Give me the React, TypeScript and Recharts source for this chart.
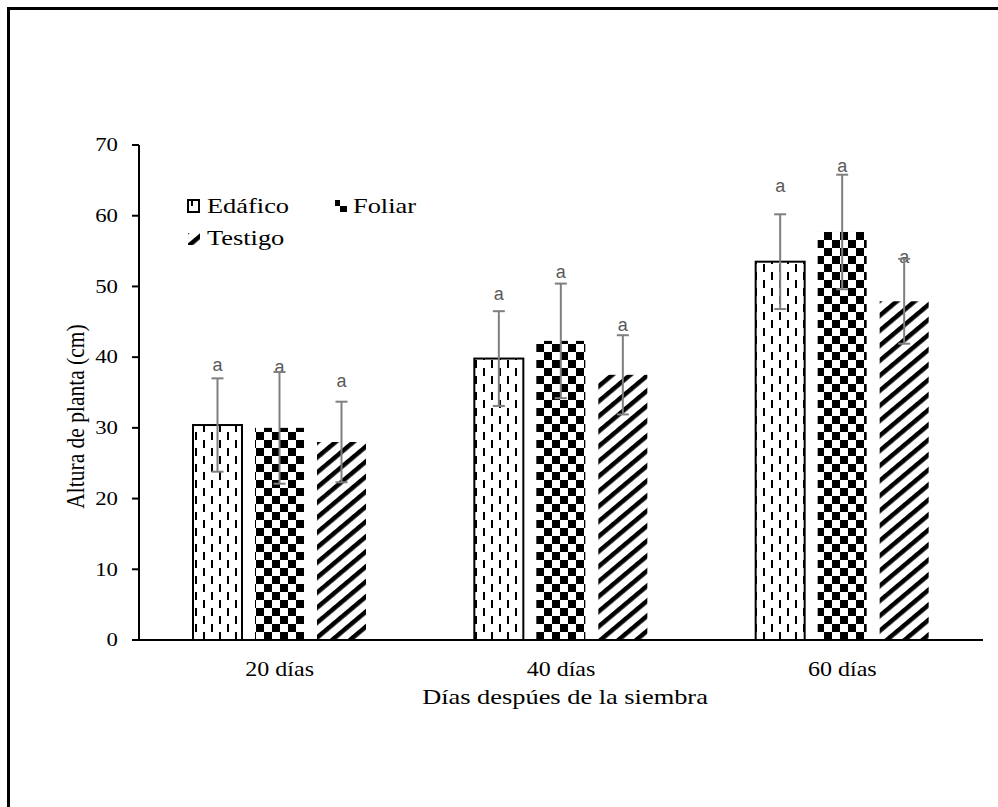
import React from 'react';
import { Bar, BarChart, ErrorBar, Legend, XAxis, YAxis } from 'recharts';

// ----------------------
// DATA
// ----------------------
const categories = ['20 días', '40 días', '60 días'];

const edafico = [30.4, 39.8, 53.5];
const edaficoSd = [6.6, 6.7, 6.7];
const foliar = [30.0, 42.3, 57.7];
const foliarSd = [7.9, 8.1, 8.1];
const testigo = [28.0, 37.5, 47.9];
const testigoSd = [5.7, 5.6, 6.0];

// significance letters and the height (cm) their baseline sits at
const edaficoLetter = ['a', 'a', 'a'];
const edaficoLetterAt = [38.0, 48.1, 63.4];
const foliarLetter = ['a', 'a', 'a'];
const foliarLetterAt = [37.8, 51.2, 66.2];
const testigoLetter = ['a', 'a', 'a'];
const testigoLetterAt = [35.8, 43.7, 53.3];

const yTicks = [0, 10, 20, 30, 40, 50, 60, 70];

const data = categories.map((name, i) => ({
  name,
  edafico: edafico[i],
  edaficoSd: edaficoSd[i],
  foliar: foliar[i],
  foliarSd: foliarSd[i],
  testigo: testigo[i],
  testigoSd: testigoSd[i],
}));

// ----------------------
// STYLE
// ----------------------
const SERIF = '"Liberation Serif", "Times New Roman", serif';
const STRETCH = 1.2; // the source figure is stretched horizontally
const ERR = '#7f7f7f';

const Patterns = () => (
  <defs>
    <pattern id="pat-edafico" patternUnits="userSpaceOnUse" width={16} height={16}>
      <rect width={16} height={16} fill="#fff" />
      <rect x={3} y={0} width={2} height={8} fill="#000" />
      <rect x={11} y={8} width={2} height={8} fill="#000" />
    </pattern>
    <pattern id="pat-foliar" patternUnits="userSpaceOnUse" width={16} height={16}>
      <rect width={16} height={16} fill="#fff" />
      <rect x={0} y={0} width={8} height={8} fill="#000" />
      <rect x={8} y={8} width={8} height={8} fill="#000" />
    </pattern>
    <pattern id="pat-testigo" patternUnits="userSpaceOnUse" width={11.5} height={11.5} patternTransform="rotate(50)">
      <rect width={11.5} height={11.5} fill="#fff" />
      <rect x={0} y={0} width={4.5} height={11.5} fill="#000" />
    </pattern>
  </defs>
);

// bar + its letter, letter height converted with the bar's own scale
const makeShape = (key: string, fill: string, letters: string[], letterAt: number[], outline: boolean) =>
  (props: any) => {
    const { x, y, width, height, index, payload } = props;
    const v = payload[key];
    const pxPerUnit = v ? height / v : 0;
    const ly = y + height - letterAt[index] * pxPerUnit;
    return (
      <g>
        <rect
          x={x}
          y={y}
          width={width}
          height={height}
          fill={fill}
          stroke={outline ? '#000' : 'none'}
          strokeWidth={outline ? 2 : 0}
        />
        <text
          x={x + width / 2}
          y={ly}
          textAnchor="middle"
          fontSize={18}
          fontFamily='"Liberation Sans", Arial, sans-serif'
          fill="#595959"
        >
          {letters[index]}
        </text>
      </g>
    );
  };

const YTick = ({ x, y, payload }: any) => (
  <text
    transform={`translate(${x},${y}) scale(${STRETCH},1)`}
    textAnchor="end"
    dominantBaseline="central"
    fontSize={19}
    fontFamily={SERIF}
    fill="#000"
  >
    {payload.value}
  </text>
);

const XTick = ({ x, y, payload }: any) => (
  <text
    transform={`translate(${x},${y}) scale(${STRETCH},1)`}
    textAnchor="middle"
    dominantBaseline="central"
    fontSize={20}
    fontFamily={SERIF}
    fill="#000"
  >
    {payload.value}
  </text>
);

const XTitle = (props: any) => {
  const { x, y, width } = props.viewBox;
  return (
    <text
      transform={`translate(${x + width / 2 + 4},${y + 56}) scale(${STRETCH},1)`}
      textAnchor="middle"
      dominantBaseline="central"
      fontSize={22}
      fontFamily={SERIF}
      fill="#000"
    >
      Días despúes de la siembra
    </text>
  );
};

const YTitle = (props: any) => {
  const { x, y, height } = props.viewBox;
  return (
    <text
      transform={`translate(${x - 4},${y + height / 2 + 24}) scale(${STRETCH},1) rotate(-90)`}
      textAnchor="middle"
      dominantBaseline="central"
      fontSize={21.5}
      fontFamily={SERIF}
      fill="#000"
    >
      Altura de planta (cm)
    </text>
  );
};

const LegendBox = () => {
  const label = (tx: number, ty: number, s: string) => (
    <text transform={`translate(${tx},${ty}) scale(${STRETCH},1)`} fontSize={22} fontFamily={SERIF} fill="#000">
      {s}
    </text>
  );
  return (
    <svg width={300} height={70} style={{ display: 'block' }}>
      <rect x={8} y={10} width={11} height={12} fill="url(#pat-edafico)" stroke="#000" strokeWidth={2} />
      {label(27, 23, 'Edáfico')}
      <rect x={155} y={10} width={12} height={12} fill="url(#pat-foliar)" />
      {label(173, 23, 'Foliar')}
      <rect x={8} y={43} width={12} height={12} fill="url(#pat-testigo)" />
      {label(27, 55, 'Testigo')}
    </svg>
  );
};

export default function App() {
  return (
    <div style={{ position: 'absolute', left: 0, top: 0, width: 998, height: 807, overflow: 'hidden', background: '#fff' }}>
      <div
        style={{
          position: 'absolute',
          left: 7,
          top: 7,
          width: 1100,
          height: 900,
          borderLeft: '3px solid #000',
          borderTop: '3px solid #000',
        }}
      />
      <div style={{ position: 'absolute', left: 0, top: 0 }}>
        <BarChart
          width={998}
          height={807}
          data={data}
          margin={{ top: 145, right: 15, left: 79, bottom: 107 }}
          barSize={49}
          barGap={13}
        >
          <Patterns />
          <XAxis
            dataKey="name"
            height={60}
            axisLine={{ stroke: '#000', strokeWidth: 2 }}
            tickLine={false}
            tickSize={0}
            tickMargin={29}
            tick={<XTick />}
            label={XTitle}
          />
          <YAxis
            width={60}
            domain={[0, 70]}
            ticks={yTicks}
            interval={0}
            axisLine={{ stroke: '#000', strokeWidth: 2 }}
            tickLine={{ stroke: '#000', strokeWidth: 2 }}
            tickSize={7}
            tickMargin={14}
            tick={<YTick />}
            label={YTitle}
          />
          <Legend
            content={<LegendBox />}
            layout="horizontal"
            verticalAlign="middle"
            align="center"
            wrapperStyle={{ position: 'absolute', left: 180, top: 190, width: 300, height: 70 }}
          />
          <Bar
            dataKey="edafico"
            name="Edáfico"
            isAnimationActive={false}
            shape={makeShape('edafico', 'url(#pat-edafico)', edaficoLetter, edaficoLetterAt, true)}
          >
            <ErrorBar dataKey="edaficoSd" stroke={ERR} strokeWidth={2} width={6} isAnimationActive={false} />
          </Bar>
          <Bar
            dataKey="foliar"
            name="Foliar"
            isAnimationActive={false}
            shape={makeShape('foliar', 'url(#pat-foliar)', foliarLetter, foliarLetterAt, false)}
          >
            <ErrorBar dataKey="foliarSd" stroke={ERR} strokeWidth={2} width={6} isAnimationActive={false} />
          </Bar>
          <Bar
            dataKey="testigo"
            name="Testigo"
            isAnimationActive={false}
            shape={makeShape('testigo', 'url(#pat-testigo)', testigoLetter, testigoLetterAt, false)}
          >
            <ErrorBar dataKey="testigoSd" stroke={ERR} strokeWidth={2} width={6} isAnimationActive={false} />
          </Bar>
        </BarChart>
      </div>
    </div>
  );
}
